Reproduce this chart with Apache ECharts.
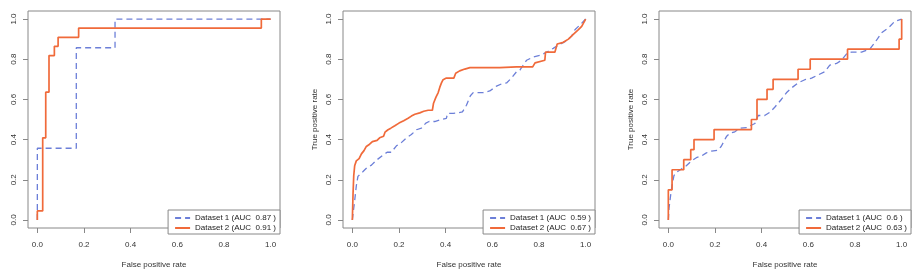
<!DOCTYPE html>
<html>
<head>
<meta charset="utf-8">
<script src="https://cdn.jsdelivr.net/npm/echarts@6/dist/echarts.min.js"></script>
<style>
  html, body { margin: 0; padding: 0; background: #fff; }
  #chart { width: 914px; height: 274px; }
</style>
</head>
<body>
<div id="chart"></div>
<script>
const ticks = [0, 0.2, 0.4, 0.6, 0.8, 1.0]

// panel 1
const fprA1 = [0, 0, 0.167, 0.167, 0.333, 0.333, 1]
const tprA1 = [0, 0.357, 0.357, 0.857, 0.857, 1, 1]
const fprA2 = [0, 0, 0.023, 0.023, 0.036, 0.036, 0.05, 0.05, 0.073, 0.073, 0.089, 0.089, 0.177, 0.177, 0.96, 0.96, 1]
const tprA2 = [0, 0.045, 0.045, 0.409, 0.409, 0.636, 0.636, 0.818, 0.818, 0.864, 0.864, 0.909, 0.909, 0.955, 0.955, 1, 1]

// panel 2
const fprB1 = [0, 0.01, 0.017, 0.024, 0.029, 0.046, 0.06, 0.082, 0.103, 0.129, 0.149, 0.167, 0.189, 0.21, 0.232, 0.253, 0.275, 0.296, 0.315, 0.329, 0.353, 0.375, 0.403, 0.408, 0.432, 0.453, 0.472, 0.489, 0.506, 0.518, 0.561, 0.589, 0.618, 0.639, 0.661, 0.682, 0.704, 0.718, 0.732, 0.747, 0.775, 0.804, 0.833, 0.861, 0.89, 0.918, 0.94, 0.954, 0.976, 1]
const tprB1 = [0, 0.096, 0.169, 0.217, 0.225, 0.241, 0.257, 0.273, 0.297, 0.321, 0.337, 0.337, 0.369, 0.385, 0.409, 0.425, 0.449, 0.457, 0.482, 0.49, 0.49, 0.498, 0.506, 0.53, 0.53, 0.533, 0.538, 0.571, 0.618, 0.634, 0.634, 0.642, 0.666, 0.677, 0.682, 0.706, 0.738, 0.746, 0.77, 0.795, 0.811, 0.819, 0.835, 0.854, 0.875, 0.891, 0.915, 0.947, 0.971, 1]
const fprB2 = [0, 0.003, 0.006, 0.01, 0.017, 0.029, 0.039, 0.05, 0.06, 0.074, 0.086, 0.106, 0.117, 0.134, 0.14, 0.153, 0.165, 0.182, 0.2, 0.22, 0.239, 0.253, 0.268, 0.289, 0.306, 0.325, 0.343, 0.348, 0.358, 0.368, 0.375, 0.382, 0.389, 0.403, 0.435, 0.443, 0.46, 0.482, 0.504, 0.575, 0.632, 0.704, 0.773, 0.783, 0.825, 0.828, 0.868, 0.878, 0.904, 0.926, 0.947, 0.969, 0.983, 1]
const tprB2 = [0, 0.13, 0.22, 0.27, 0.294, 0.305, 0.329, 0.345, 0.366, 0.377, 0.39, 0.396, 0.409, 0.417, 0.437, 0.449, 0.457, 0.469, 0.482, 0.494, 0.506, 0.517, 0.526, 0.533, 0.541, 0.546, 0.546, 0.581, 0.61, 0.634, 0.661, 0.682, 0.698, 0.706, 0.706, 0.73, 0.742, 0.751, 0.758, 0.758, 0.758, 0.762, 0.762, 0.782, 0.795, 0.835, 0.835, 0.876, 0.884, 0.9, 0.924, 0.947, 0.963, 1]

// panel 3
const fprC1 = [0, 0.003, 0.01, 0.016, 0.024, 0.034, 0.056, 0.077, 0.099, 0.12, 0.142, 0.163, 0.185, 0.213, 0.227, 0.249, 0.263, 0.285, 0.306, 0.335, 0.371, 0.385, 0.413, 0.435, 0.456, 0.485, 0.506, 0.528, 0.556, 0.585, 0.614, 0.642, 0.671, 0.692, 0.721, 0.742, 0.764, 0.785, 0.828, 0.864, 0.886, 0.914, 0.943, 0.971, 1]
const tprC1 = [0, 0.06, 0.124, 0.173, 0.221, 0.237, 0.254, 0.27, 0.294, 0.31, 0.318, 0.334, 0.343, 0.347, 0.367, 0.415, 0.431, 0.439, 0.456, 0.46, 0.48, 0.52, 0.52, 0.536, 0.561, 0.601, 0.633, 0.657, 0.682, 0.698, 0.706, 0.722, 0.738, 0.771, 0.779, 0.795, 0.827, 0.835, 0.835, 0.851, 0.884, 0.932, 0.956, 0.989, 1]
const fprC2 = [0, 0, 0.016, 0.016, 0.066, 0.066, 0.096, 0.096, 0.11, 0.11, 0.196, 0.196, 0.356, 0.356, 0.38, 0.38, 0.423, 0.423, 0.449, 0.449, 0.556, 0.556, 0.608, 0.608, 0.768, 0.768, 0.989, 0.989, 1, 1]
const tprC2 = [0, 0.15, 0.15, 0.25, 0.25, 0.3, 0.3, 0.35, 0.35, 0.4, 0.4, 0.45, 0.45, 0.5, 0.5, 0.6, 0.6, 0.65, 0.65, 0.7, 0.7, 0.75, 0.75, 0.8, 0.8, 0.85, 0.85, 0.9, 0.9, 1]

const aucLabels = [
  ['Dataset 1 (AUC  0.87 )', 'Dataset 2 (AUC  0.91 )'],
  ['Dataset 1 (AUC  0.59 )', 'Dataset 2 (AUC  0.67 )'],
  ['Dataset 1 (AUC  0.6 )', 'Dataset 2 (AUC  0.63 )']
]
const xName = 'False positive rate'
const yNames = ['', 'True positive rate', 'True positive rate']

const curves = [
  [[fprA1, tprA1], [fprA2, tprA2]],
  [[fprB1, tprB1], [fprB2, tprB2]],
  [[fprC1, tprC1], [fprC2, tprC2]]
]

const blue = '#6c7fd8'
const orange = '#f06a3a'
const boxColor = '#888'
const font = 'Liberation Sans, Arial, sans-serif'
const gridLefts = [28, 343, 659]
const boxW = 252

const chart = echarts.init(document.getElementById('chart'))

const grids = gridLefts.map(l => ({
  left: l, top: 11, width: boxW, height: 223,
  show: true, borderColor: boxColor, borderWidth: 1, backgroundColor: 'transparent'
}))

const axisCommon = {
  type: 'value',
  min: -0.04,
  max: 1.04,
  splitLine: { show: false },
  axisLine: { show: false, onZero: false },
  axisTick: { show: true, length: 5, customValues: ticks, lineStyle: { color: boxColor } },
  axisLabel: {
    customValues: ticks,
    formatter: v => v.toFixed(1),
    fontSize: 8, color: '#333', fontFamily: font, margin: 13
  },
  nameLocation: 'middle',
  nameTextStyle: { fontSize: 8, color: '#333', fontFamily: font }
}

const xAxes = gridLefts.map((l, i) => Object.assign({}, axisCommon, {
  gridIndex: i, name: xName, nameGap: 33
}))
const yAxes = gridLefts.map((l, i) => Object.assign({}, axisCommon, {
  gridIndex: i, name: yNames[i], nameGap: 24,
  axisLabel: Object.assign({}, axisCommon.axisLabel, { rotate: 90, margin: 10 })
}))

const series = []
curves.forEach((pair, i) => {
  pair.forEach((c, j) => {
    series.push({
      name: aucLabels[i][j],
      type: 'line',
      xAxisIndex: i,
      yAxisIndex: i,
      symbol: 'none',
      data: c[0].map((x, k) => [x, c[1][k]]),
      lineStyle: j === 0
        ? { color: blue, width: 1.3, type: [6, 4] }
        : { color: orange, width: 1.7 },
      itemStyle: { color: j === 0 ? blue : orange }
    })
  })
})

const legends = gridLefts.map((l, i) => ({
  orient: 'vertical',
  right: 914 - (l + boxW),
  bottom: 40,
  data: aucLabels[i],
  backgroundColor: '#fff',
  borderColor: boxColor,
  borderWidth: 1,
  borderRadius: 0,
  padding: [4, 4, 2, 6],
  itemGap: 2,
  itemWidth: 15,
  itemHeight: 8,
  selectedMode: false,
  itemStyle: { opacity: 0 },
  textStyle: { fontSize: 8, color: '#222', fontFamily: font }
}))

chart.setOption({
  animation: false,
  grid: grids,
  xAxis: xAxes,
  yAxis: yAxes,
  legend: legends,
  series: series
})
</script>
</body>
</html>
